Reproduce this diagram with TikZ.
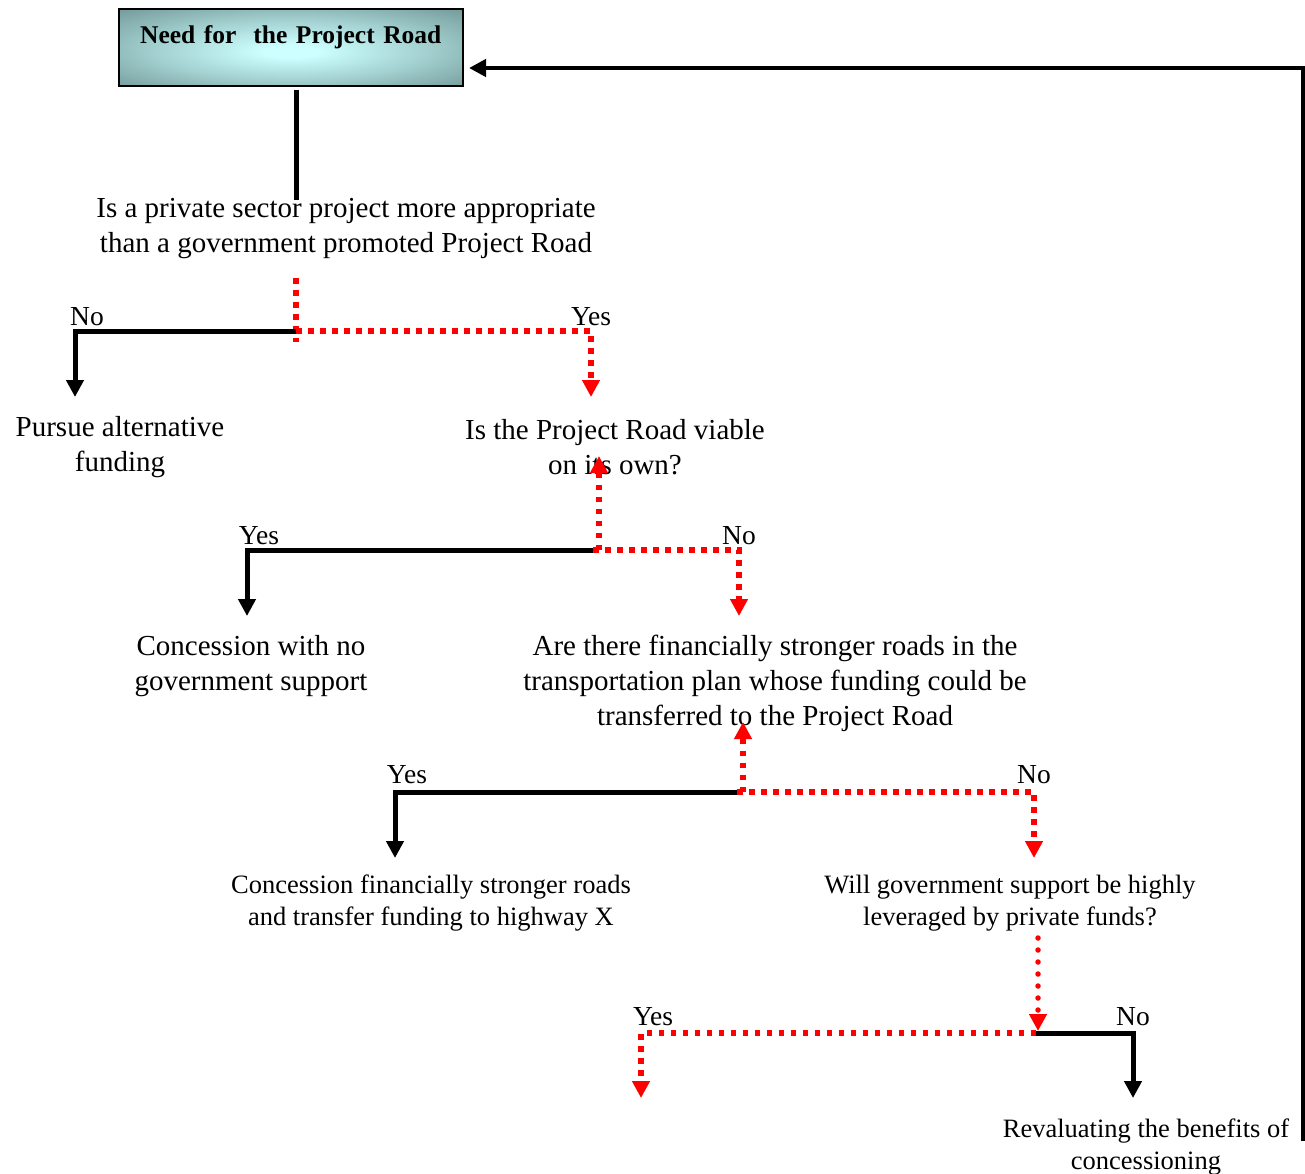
\documentclass[tikz,border=0pt]{standalone}
\usepackage{fontspec}
\setmainfont{Liberation Serif}
\usetikzlibrary{arrows.meta}
\definecolor{boxouter}{HTML}{6F9494}
\definecolor{boxinner}{HTML}{CCFFFF}
\pgfdeclareradialshading{titleshade}{\pgfpoint{0bp}{-3bp}}{%
  color(0bp)=(boxinner); color(4bp)=(boxinner); color(20bp)=(boxinner!55!boxouter); color(38bp)=(boxouter); color(50bp)=(boxouter)}
\begin{document}
\begin{tikzpicture}[x=1pt,y=-1pt,
  blk/.style={line width=5pt,black},
  rsq/.style={line width=5.5pt,red,dash pattern=on 5.5pt off 6.5pt},
  rrd/.style={line width=5.5pt,red,line cap=round,dash pattern=on 0pt off 12pt},
  tip/.style={-{Triangle[width=17pt,length=17pt]}},
  big/.style={align=center,inner sep=0pt,font=\fontsize{29}{35}\selectfont},
  small/.style={align=center,inner sep=0pt,font=\fontsize{26.5}{32}\selectfont},
  lab/.style={inner sep=0pt,font=\fontsize{27.5}{30}\selectfont},
]
\useasboundingbox (0,0) rectangle (1305,1173);
% title box
\node[draw,line width=1.5pt,shading=titleshade,
      inner sep=0pt,text width=344pt,align=center,text height=35pt,text depth=42pt,
      font=\bfseries\fontsize{25.5}{30}\selectfont,anchor=north west] (top) at (118,8)
      {Need for\ \ the Project Road};
% texts
\node[big] (q1) at (346,229) {Is a private sector project more appropriate\\than a government promoted Project Road};
\node[big] (alt) at (120,447) {Pursue alternative\\funding};
\node[big] (q2) at (615,447) {Is the Project Road viable\\on its own?};
\node[big] (conc) at (251,666) {Concession with no\\government support};
\node[big] (q3) at (775,683) {Are there financially stronger roads in the\\transportation plan whose funding could be\\transferred to the Project Road};
\node[small] (trans) at (431,903) {Concession financially stronger roads\\and transfer funding to highway X};
\node[small] (q4) at (1010,903) {Will government support be highly\\leveraged by private funds?};
\node[small] (reval) at (1146,1147) {Revaluating the benefits of\\concessioning};
% labels
\node[lab] (n1) at (87,317) {No};
\node[lab] (y1) at (591,317) {Yes};
\node[lab] (y2) at (259,536) {Yes};
\node[lab] (n2) at (739,536) {No};
\node[lab] (y3) at (407,775) {Yes};
\node[lab] (n3) at (1034,775) {No};
\node[lab] (y4) at (653,1017) {Yes};
\node[lab] (n4) at (1133,1017) {No};
% coordinates
\coordinate (s0) at (296,90);
\coordinate (e0) at (296,200);
\coordinate (j1) at (296,331);
\coordinate (c1a) at (296,278);
\coordinate (c1b) at (296,342);
\coordinate (l1) at (75,331);
\coordinate (a1l) at (75,397);
\coordinate (r1) at (591,331);
\coordinate (a1r) at (591,397);
\coordinate (j2) at (593,550);
\coordinate (u2) at (599,550);
\coordinate (u2t) at (599,456);
\coordinate (l2) at (247,550);
\coordinate (a2l) at (247,616);
\coordinate (r2) at (739,550);
\coordinate (a2r) at (739,616);
\coordinate (j3) at (737,792);
\coordinate (u3) at (743,792);
\coordinate (u3t) at (743,722);
\coordinate (l3) at (395,792);
\coordinate (a3l) at (395,858);
\coordinate (r3) at (1034,792);
\coordinate (a3r) at (1034,858);
\coordinate (d4) at (1038,938);
\coordinate (d4t) at (1038,1031);
\coordinate (j4) at (1036,1033);
\coordinate (l4) at (641,1033);
\coordinate (a4l) at (641,1098);
\coordinate (r4) at (1133,1033);
\coordinate (a4r) at (1133,1098);
\coordinate (rb) at (1303,1141);
\coordinate (rt) at (1303,68);
\coordinate (ret) at (469,68);
% connectors
\draw[blk] (s0) -- (e0);
\draw[rsq] (c1a) -- (c1b);
\draw[blk,tip] (j1) -- (l1) -- (a1l);
\draw[rsq,tip] (j1) -- (r1) -- (a1r);
\draw[blk,tip] (j2) -- (l2) -- (a2l);
\draw[rsq,tip] (u2) -- (u2t);
\draw[rsq,tip] (j2) -- (r2) -- (a2r);
\draw[blk,tip] (j3) -- (l3) -- (a3l);
\draw[rsq,tip] (u3) -- (u3t);
\draw[rsq,tip] (j3) -- (r3) -- (a3r);
\draw[rrd,tip] (d4) -- (d4t);
\draw[rsq,tip] (j4) -- (l4) -- (a4l);
\draw[blk,tip] (j4) -- (r4) -- (a4r);
\draw[line width=4.5pt,black,tip] (rb) -- (rt) -- (ret);
\end{tikzpicture}
\end{document}
